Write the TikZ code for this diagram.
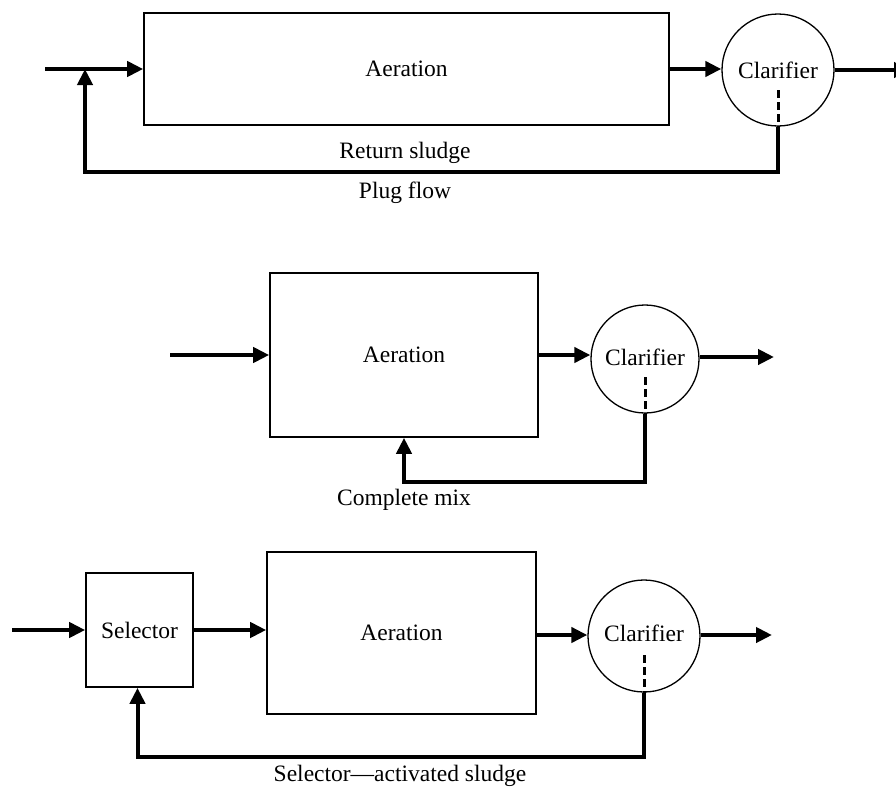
\documentclass[tikz,border=0pt]{standalone}
\usepackage{fontspec}
\setmainfont{Liberation Serif}
\usetikzlibrary{arrows.meta}
\begin{document}
\begin{tikzpicture}[x=1pt,y=-1pt,
  box/.style={draw,line width=1.6pt,inner sep=0pt,font=\fontsize{23.5}{28}\selectfont},
  clar/.style={draw,circle,line width=1.3pt,inner sep=0pt,font=\fontsize{23.5}{28}\selectfont},
  flow/.style={line width=4pt,-{Triangle[length=16pt,width=15pt]}},
  pipe/.style={line width=4pt},
  drain/.style={line width=3pt,dash pattern=on 8pt off 4pt},
  lbl/.style={inner sep=0pt,font=\fontsize{23.5}{28}\selectfont}]
\useasboundingbox (0,0) rectangle (896,790);
\clip (0,0) rectangle (896,790);
% ---------- Plug flow ----------
\node[box,minimum width=525pt,minimum height=112pt] (aer1) at (406.5,69) {Aeration};
\node[clar,minimum size=112pt] (clar1) at (778,70) {};
\node[lbl] at (778,70) {Clarifier};
\coordinate (in1) at (45,69);
\coordinate (j1) at (85,69);
\coordinate (fb1) at (778,172);
\coordinate (out1) at (910,70);
\coordinate (d1) at (778,90);
\draw[flow] (in1) -- (aer1.west);
\draw[flow] (aer1.east) -- (aer1.east -| clar1.west);
\draw[flow] (clar1.east) -- (out1);
\draw[drain] (d1) -- (clar1.south);
\draw[pipe,line join=miter] (clar1.south) |- (j1 |- fb1) -- ([yshift=-10pt]j1);
\draw[flow] ([yshift=-14pt]j1) -- (j1);
\node[lbl] (rs) at (405,153) {Return sludge};
\node[lbl] (pf) at (405,193) {Plug flow};
% ---------- Complete mix ----------
\node[box,minimum width=268pt,minimum height=164pt] (aer2) at (404,355) {Aeration};
\node[clar,minimum size=108pt] (clar2) at (645,359) {};
\node[lbl] at (645,357) {Clarifier};
\coordinate (in2) at (170,355);
\coordinate (out2) at (774,357);
\coordinate (fb2) at (645,482);
\coordinate (d2) at (645,377);
\draw[flow] (in2) -- (aer2.west);
\draw[flow] (aer2.east) -- (aer2.east -| clar2.west);
\draw[flow] (clar2.east |- out2) -- (out2);
\draw[drain] (d2) -- (clar2.south);
\draw[pipe,line join=miter] (clar2.south) |- (aer2.south |- fb2) -- ([yshift=-12pt]aer2.south);
\draw[flow] ([yshift=-16pt]aer2.south) -- (aer2.south);
\node[lbl] (cm) at (404,500) {Complete mix};
% ---------- Selector ----------
\node[box,minimum width=107pt,minimum height=114pt] (sel) at (139.5,630) {Selector};
\node[box,minimum width=269pt,minimum height=162pt] (aer3) at (401.5,633) {Aeration};
\node[clar,minimum size=112pt] (clar3) at (644,636) {};
\node[lbl] at (644,633) {Clarifier};
\coordinate (in3) at (12,630);
\coordinate (out3) at (772,635);
\coordinate (fb3) at (644,757);
\coordinate (d3) at (644,655);
\draw[flow] (in3) -- (sel.west |- in3);
\draw[flow] (sel.east |- in3) -- (aer3.west |- in3);
\draw[flow] (aer3.east |- out3) -- (clar3.west |- out3);
\draw[flow] (clar3.east |- out3) -- (out3);
\draw[drain] (d3) -- (clar3.south);
\draw[pipe,line join=miter] (clar3.south) |- ([xshift=-2pt]sel.south |- fb3) -- ([xshift=-2pt,yshift=-12pt]sel.south);
\draw[flow] ([xshift=-2pt,yshift=-16pt]sel.south) -- ([xshift=-2pt]sel.south);
\node[lbl] (sa) at (400,776) {Selector—activated sludge};
\end{tikzpicture}
\end{document}
